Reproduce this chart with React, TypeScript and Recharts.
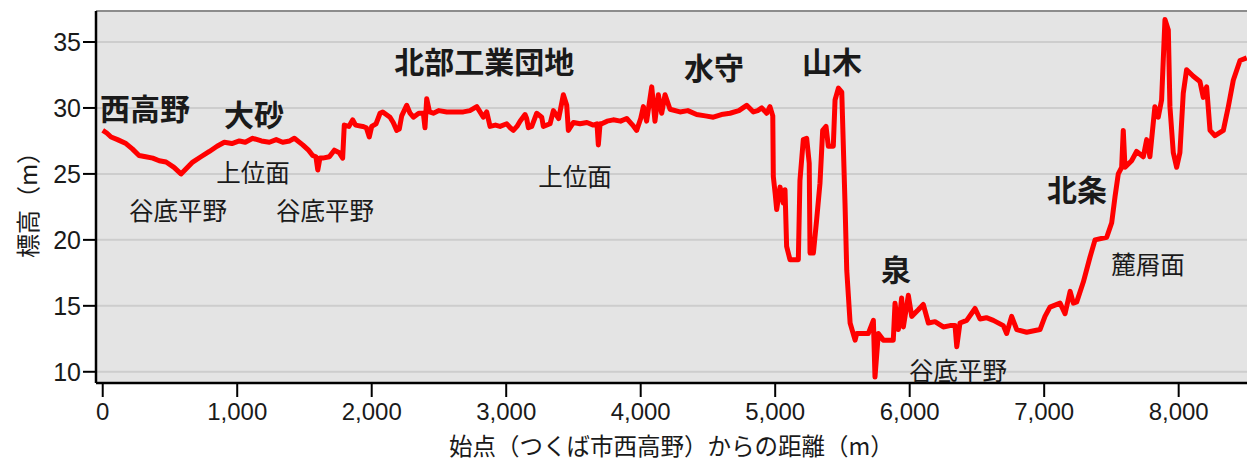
import { LineChart, Line, XAxis, YAxis, CartesianGrid, ReferenceLine, ReferenceDot } from 'recharts';

// distance from start (m) and elevation (m)
const distance = [
  0, 30, 62, 110, 173, 220, 270, 320, 372, 420, 471, 530, 582, 620, 669, 730, 793, 850, 904, 960,
  1016, 1060, 1115, 1180, 1239, 1290, 1338, 1390, 1425, 1487, 1530, 1561, 1585, 1599, 1615, 1636, 1685, 1722, 1759, 1784,
  1796, 1830, 1859, 1880, 1933, 1960, 1982, 2000, 2032, 2062, 2082, 2136, 2160, 2186, 2205, 2223, 2260, 2285, 2310, 2350,
  2384, 2396, 2409, 2430, 2458, 2500, 2558, 2620, 2681, 2730, 2781, 2830, 2855, 2880, 2920, 2954, 3004, 3030, 3053, 3080,
  3103, 3140, 3152, 3165, 3190, 3227, 3264, 3276, 3326, 3351, 3390, 3425, 3450, 3462, 3500, 3549, 3600, 3648, 3675, 3685,
  3698, 3710, 3750, 3796, 3850, 3896, 3940, 3970, 4000, 4020, 4044, 4082, 4106, 4131, 4156, 4181, 4218, 4292, 4350, 4416,
  4480, 4540, 4600, 4664, 4730, 4788, 4838, 4870, 4900, 4937, 4961, 4982, 4986, 5000, 5011, 5036, 5060, 5073, 5085, 5110,
  5172, 5184, 5209, 5234, 5253, 5259, 5284, 5308, 5333, 5353, 5378, 5395, 5432, 5445, 5470, 5495, 5519, 5532, 5557, 5594,
  5606, 5650, 5692, 5730, 5742, 5767, 5804, 5878, 5891, 5916, 5940, 5953, 5990, 6015, 6064, 6101, 6139, 6188, 6250, 6300,
  6337, 6350, 6374, 6424, 6486, 6523, 6570, 6622, 6696, 6721, 6758, 6796, 6870, 6969, 7006, 7043, 7118, 7155, 7193, 7217,
  7242, 7291, 7341, 7378, 7465, 7502, 7527, 7551, 7576, 7588, 7601, 7650, 7687, 7737, 7762, 7786, 7823, 7848, 7873, 7898,
  7923, 7935, 7960, 7985, 8009, 8034, 8059, 8109, 8158, 8183, 8208, 8233, 8270, 8332, 8369, 8406, 8456, 8506,
];

const elevation = [
  28.3, 28.1, 27.8, 27.6, 27.3, 26.9, 26.4, 26.3, 26.2, 26.0, 25.9, 25.5, 25.0, 25.4, 25.9, 26.3, 26.7, 27.1, 27.4, 27.3,
  27.5, 27.4, 27.7, 27.5, 27.4, 27.6, 27.4, 27.5, 27.7, 27.2, 26.8, 26.4, 26.3, 25.3, 26.2, 26.2, 26.3, 26.8, 26.6, 26.2,
  28.7, 28.6, 29.1, 28.7, 28.6, 28.5, 27.8, 28.6, 28.8, 29.6, 29.7, 29.3, 28.9, 28.3, 28.4, 29.4, 30.2, 29.6, 29.3, 29.6,
  29.6, 28.5, 30.7, 29.7, 29.6, 29.8, 29.7, 29.7, 29.7, 29.8, 30.1, 29.3, 29.7, 28.6, 28.7, 28.6, 28.8, 28.5, 28.3, 28.6,
  29.0, 29.5, 29.2, 28.5, 28.6, 29.6, 29.3, 28.6, 28.8, 29.8, 29.2, 31.0, 30.2, 28.3, 28.9, 28.8, 28.9, 28.7, 28.8, 27.2,
  28.8, 28.8, 29.0, 29.1, 29.0, 29.2, 28.7, 28.3, 29.2, 30.1, 29.0, 31.6, 29.0, 31.0, 29.6, 31.0, 29.9, 29.7, 29.8, 29.5,
  29.4, 29.3, 29.5, 29.6, 29.8, 30.2, 29.7, 29.8, 30.0, 29.6, 30.1, 29.4, 24.8, 23.5, 22.3, 24.0, 22.8, 23.8, 19.5, 18.5,
  18.5, 24.5, 27.6, 27.7, 25.8, 19.0, 19.0, 21.5, 24.3, 28.3, 28.6, 27.1, 27.1, 30.6, 31.5, 31.2, 22.8, 17.7, 13.7, 12.4,
  12.9, 12.9, 12.9, 13.9, 9.6, 12.9, 12.4, 12.4, 15.2, 13.2, 15.6, 13.4, 15.8, 14.2, 14.7, 15.1, 13.7, 13.8, 13.4, 13.5,
  13.5, 11.9, 13.7, 13.9, 14.8, 14.0, 14.1, 13.9, 13.5, 12.9, 14.2, 13.2, 13.0, 13.2, 14.2, 14.9, 15.2, 14.4, 16.1, 15.2,
  15.3, 16.8, 18.7, 20.0, 20.2, 21.3, 23.3, 25.0, 25.5, 28.3, 25.5, 26.0, 26.7, 26.3, 27.6, 26.3, 30.1, 29.3, 30.6, 36.7,
  35.9, 30.1, 26.6, 25.5, 26.6, 31.1, 32.9, 32.4, 32.0, 30.8, 31.6, 28.3, 27.9, 28.3, 30.1, 32.1, 33.6, 33.8,
];

const xTicks = [0, 1000, 2000, 3000, 4000, 5000, 6000, 7000, 8000];
const yTicks = [10, 15, 20, 25, 30, 35];

// place names (bold) and landform names, anchored at distance / elevation
const placeNames = [
  { text: '西高野', d: 315, h: 30.1 },
  { text: '大砂', d: 1125, h: 29.6 },
  { text: '北部工業団地', d: 2836, h: 33.6 },
  { text: '水守', d: 4545, h: 33.2 },
  { text: '山木', d: 5422, h: 33.6 },
  { text: '泉', d: 5898, h: 17.9 },
  { text: '北条', d: 7244, h: 23.9 },
];

const landforms = [
  { text: '上位面', d: 1117, h: 25.2 },
  { text: '谷底平野', d: 560, h: 22.3 },
  { text: '谷底平野', d: 1653, h: 22.3 },
  { text: '上位面', d: 3512, h: 24.9 },
  { text: '谷底平野', d: 6359, h: 10.2 },
  { text: '麓屑面', d: 7772, h: 18.2 },
];

const data = distance.map((d, i) => ({ d, h: elevation[i] }));

const Y_MIN = 9.15;
const Y_MAX = 37.35;
const CJK = "'Noto Sans CJK JP', 'Noto Sans', sans-serif";
const NUM = "'Liberation Sans', Arial, sans-serif";

export default function App() {
  return (
    <div style={{ position: 'absolute', left: 0, top: 0, background: '#fff' }}>
      <LineChart width={1247} height={461} data={data} margin={{ top: 11, right: 0, bottom: 0, left: 0 }}>
        <CartesianGrid vertical={false} fill="#e4e4e4" stroke="#cdcdcd" strokeWidth={2} />
        <ReferenceLine y={Y_MAX} stroke="#8c8c8c" strokeWidth={2} />
        <XAxis
          type="number"
          dataKey="d"
          domain={[-50, 8508]}
          ticks={xTicks}
          interval={0}
          allowDataOverflow
          height={78}
          tickSize={14}
          tickMargin={6}
          tickFormatter={(v: number) => v.toLocaleString('en-US')}
          axisLine={{ stroke: '#000', strokeWidth: 2.5 }}
          tickLine={{ stroke: '#000', strokeWidth: 2 }}
          tick={{ fontSize: 24, fill: '#1a1a1a', fontFamily: NUM }}
          label={{
            value: '始点（つくば市西高野）からの距離（m）',
            position: 'insideBottom',
            offset: 6,
            fontSize: 23.5,
            fill: '#1a1a1a',
            fontFamily: CJK,
          }}
        />
        <YAxis
          type="number"
          domain={[Y_MIN, Y_MAX]}
          ticks={yTicks}
          interval={0}
          allowDataOverflow
          width={96}
          tickSize={13}
          tickMargin={2}
          axisLine={{ stroke: '#000', strokeWidth: 2.5 }}
          tickLine={{ stroke: '#000', strokeWidth: 2 }}
          tick={{ fontSize: 25, fill: '#1a1a1a', fontFamily: NUM }}
          label={{
            content: () => (
              <text
                x={26}
                y={199}
                transform="rotate(-90, 26, 199)"
                textAnchor="middle"
                dominantBaseline="central"
                fontSize={24}
                fill="#1a1a1a"
                fontFamily={CJK}
              >
                標高（m）
              </text>
            ),
          }}
        />
        <Line
          type="linear"
          dataKey="h"
          stroke="#ff0000"
          strokeWidth={5}
          strokeLinejoin="round"
          dot={false}
          isAnimationActive={false}
        />
        {placeNames.map((p, i) => (
          <ReferenceDot
            key={'p' + i}
            x={p.d}
            y={p.h}
            ifOverflow="visible"
            shape={(s: any) => (
              <text
                x={s.cx}
                y={s.cy}
                textAnchor="middle"
                dominantBaseline="central"
                fontSize={30}
                fontWeight={700}
                fill="#1a1a1a"
                fontFamily={CJK}
              >
                {p.text}
              </text>
            )}
          />
        ))}
        {landforms.map((p, i) => (
          <ReferenceDot
            key={'l' + i}
            x={p.d}
            y={p.h}
            ifOverflow="visible"
            shape={(s: any) => (
              <text
                x={s.cx}
                y={s.cy}
                textAnchor="middle"
                dominantBaseline="central"
                fontSize={24.5}
                fill="#1a1a1a"
                fontFamily={CJK}
              >
                {p.text}
              </text>
            )}
          />
        ))}
      </LineChart>
    </div>
  );
}
